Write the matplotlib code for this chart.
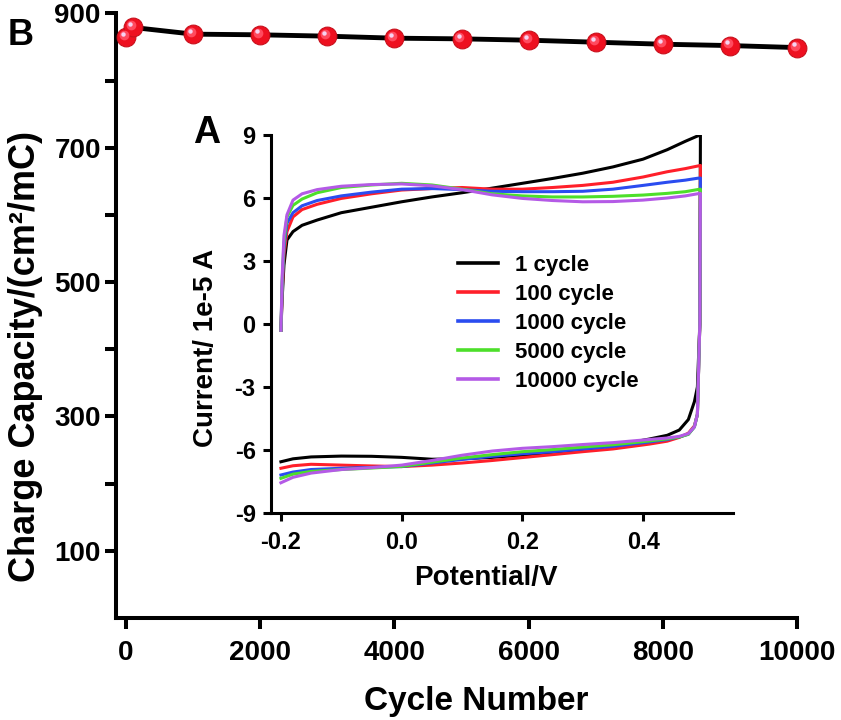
import matplotlib
matplotlib.use('Agg')
import matplotlib.pyplot as plt
import matplotlib.transforms as mtransforms

plt.rcParams['font.family'] = ['Liberation Sans', 'DejaVu Sans']
plt.rcParams['font.weight'] = 'bold'
plt.rcParams['axes.unicode_minus'] = False

# ---- main plot data: charge capacity vs cycle number ----
cycles = [0, 100, 1000, 2000, 3000, 4000, 5000, 6000, 7000, 8000, 9000, 10000]
capacity = [865, 879, 869, 868, 866, 863, 862, 860, 857, 854, 852, 849]

# ---- inset data: CV curves (potential in V, current in 1e-5 A) ----
# anodic (forward) scan, read at these potentials
x_fwd = [-0.2, -0.198, -0.195, -0.19, -0.18, -0.165, -0.14, -0.1, -0.05, 0.0, 0.05,
         0.1, 0.15, 0.2, 0.25, 0.3, 0.35, 0.4, 0.44, 0.47, 0.49, 0.495]
# cathodic (reverse) scan
x_rev = [0.494, 0.49, 0.485, 0.475, 0.46, 0.44, 0.41, 0.35, 0.3, 0.25, 0.2, 0.15,
         0.1, 0.05, 0.0, -0.05, -0.1, -0.15, -0.18, -0.2]

i_fwd_1 = [-0.3, 1.2, 2.8, 4.0, 4.4, 4.7, 4.95, 5.3, 5.56, 5.82, 6.05,
           6.25, 6.47, 6.7, 6.93, 7.18, 7.48, 7.85, 8.3, 8.7, 8.95, 9.0]
i_rev_1 = [0.0, -3.0, -3.7, -4.55, -5.05, -5.3, -5.48, -5.8, -5.98, -6.12, -6.25, -6.35,
           -6.42, -6.44, -6.35, -6.3, -6.29, -6.33, -6.42, -6.56]

i_fwd_100 = [-0.3, 1.5, 3.3, 4.4, 5.1, 5.45, 5.7, 5.98, 6.2, 6.38, 6.45,
             6.5, 6.42, 6.42, 6.5, 6.6, 6.75, 7.0, 7.25, 7.4, 7.52, 7.55]
i_rev_100 = [0.0, -4.3, -4.85, -5.2, -5.4, -5.58, -5.72, -5.95, -6.08, -6.22, -6.36, -6.5,
             -6.62, -6.72, -6.79, -6.76, -6.72, -6.68, -6.75, -6.87]

i_fwd_1000 = [-0.3, 1.8, 3.6, 4.8, 5.3, 5.63, 5.88, 6.1, 6.28, 6.42, 6.45,
              6.4, 6.32, 6.3, 6.3, 6.32, 6.42, 6.6, 6.75, 6.85, 6.94, 6.95]
i_rev_1000 = [0.0, -4.3, -4.9, -5.25, -5.38, -5.5, -5.62, -5.83, -5.95, -6.08, -6.18, -6.3,
              -6.45, -6.62, -6.79, -6.83, -6.87, -6.93, -7.05, -7.19]

i_fwd_5000 = [-0.3, 2.0, 3.9, 5.1, 5.65, 5.95, 6.25, 6.5, 6.62, 6.7, 6.62,
              6.42, 6.2, 6.1, 6.05, 6.05, 6.08, 6.14, 6.22, 6.3, 6.4, 6.42]
i_rev_5000 = [0.0, -4.3, -4.9, -5.25, -5.38, -5.47, -5.57, -5.75, -5.86, -5.98, -6.08, -6.22,
              -6.38, -6.58, -6.78, -6.86, -6.93, -7.02, -7.15, -7.35]

i_fwd_10000 = [-0.3, 2.2, 4.2, 5.2, 5.9, 6.2, 6.4, 6.56, 6.64, 6.67, 6.58,
               6.4, 6.15, 5.98, 5.88, 5.82, 5.83, 5.9, 6.0, 6.1, 6.2, 6.22]
i_rev_10000 = [0.0, -4.3, -4.9, -5.22, -5.35, -5.43, -5.5, -5.65, -5.74, -5.84, -5.92, -6.05,
               -6.25, -6.5, -6.72, -6.84, -6.93, -7.1, -7.3, -7.56]

labels = ['1 cycle', '100 cycle', '1000 cycle', '5000 cycle', '10000 cycle']
colors = ['#000000', '#ff1f2a', '#2a4cf0', '#4ddf2a', '#b45ae6']
curves = [(i_fwd_1, i_rev_1), (i_fwd_100, i_rev_100), (i_fwd_1000, i_rev_1000),
          (i_fwd_5000, i_rev_5000), (i_fwd_10000, i_rev_10000)]

fig = plt.figure(figsize=(8.41, 7.2), dpi=100)

# ---------------- main axes (B) ----------------
ax = fig.add_axes([0.138, 0.1417, 0.8097, 0.8398])
ax.plot(cycles, capacity, color='black', lw=3.5, zorder=2)
ax.plot(cycles, capacity, 'o', ms=13.5, color='#ee1020', mec='#c8101c', mew=0.8,
        zorder=3, clip_on=False)
# simple highlight to get the shiny sphere look
off1 = mtransforms.offset_copy(ax.transData, fig=fig, x=-1.5, y=1.5, units='points')
off2 = mtransforms.offset_copy(ax.transData, fig=fig, x=-2.2, y=2.4, units='points')
ax.plot(cycles, capacity, 'o', ms=7, color='#ff4a5e', mew=0, transform=off1,
        zorder=4, clip_on=False)
ax.plot(cycles, capacity, 'o', ms=3.2, color='#f6d2f0', mew=0, transform=off2,
        zorder=5, clip_on=False)

ax.set_xlim(-150, 10000)
ax.set_ylim(0, 900)
ax.set_xticks([0, 2000, 4000, 6000, 8000, 10000])
ax.set_yticks([100, 300, 500, 700, 900])
ax.set_yticks([200, 400, 600, 800], minor=True)
for s in ['top', 'right']:
    ax.spines[s].set_visible(False)
for s in ['left', 'bottom']:
    ax.spines[s].set_linewidth(2.9)
ax.tick_params(axis='both', which='both', direction='out', length=8, width=2.9,
               labelsize=20)
ax.tick_params(axis='x', pad=8)
ax.tick_params(axis='y', pad=3)
ax.set_xlabel('Cycle Number', fontsize=24, fontweight='bold')
ax.set_ylabel('Charge Capacity/(cm²/mC)', fontsize=26, fontweight='bold')
ax.xaxis.set_label_coords(0.529, -0.112)
ax.yaxis.set_label_coords(-0.107, 0.433)
fig.text(0.0095, 0.975, 'B', fontsize=26, fontweight='bold', va='top', ha='left')

# ---------------- inset axes (A) ----------------
ins = fig.add_axes([0.3222, 0.2875, 0.5494, 0.525])
for (fwd, rev), c, lab in zip(curves, colors, labels):
    ins.plot(x_fwd + x_rev, fwd + rev, color=c, lw=2.2, label=lab)

ins.set_xlim(-0.2165, 0.549)
ins.set_ylim(-9, 9)
ins.set_xticks([-0.2, 0.0, 0.2, 0.4])
ins.set_xticklabels(['-0.2', '0.0', '0.2', '0.4'])
ins.set_yticks([-9, -6, -3, 0, 3, 6, 9])
for s in ['top', 'right']:
    ins.spines[s].set_visible(False)
for s in ['left', 'bottom']:
    ins.spines[s].set_linewidth(2.2)
ins.tick_params(axis='both', direction='out', length=6, width=2.2, labelsize=17)
ins.tick_params(axis='x', pad=7)
ins.tick_params(axis='y', pad=5)
ins.set_xlabel('Potential/V', fontsize=20, fontweight='bold')
ins.set_ylabel('Current/ 1e-5 A', fontsize=20, fontweight='bold')
ins.xaxis.set_label_coords(0.465, -0.137)
ins.yaxis.set_label_coords(-0.113, 0.437)

leg = ins.legend(loc='upper left', bbox_to_anchor=(0.405, 0.683), frameon=False,
                 prop={'size': 16, 'weight': 'bold'}, handlelength=1.8,
                 handletextpad=0.75, labelspacing=0.36, borderpad=0, borderaxespad=0)
for line in leg.get_lines():
    line.set_linewidth(2.6)

fig.text(0.229, 0.815, 'A', fontsize=27, fontweight='bold', va='center', ha='left')

fig.savefig('out.png', dpi=100)
